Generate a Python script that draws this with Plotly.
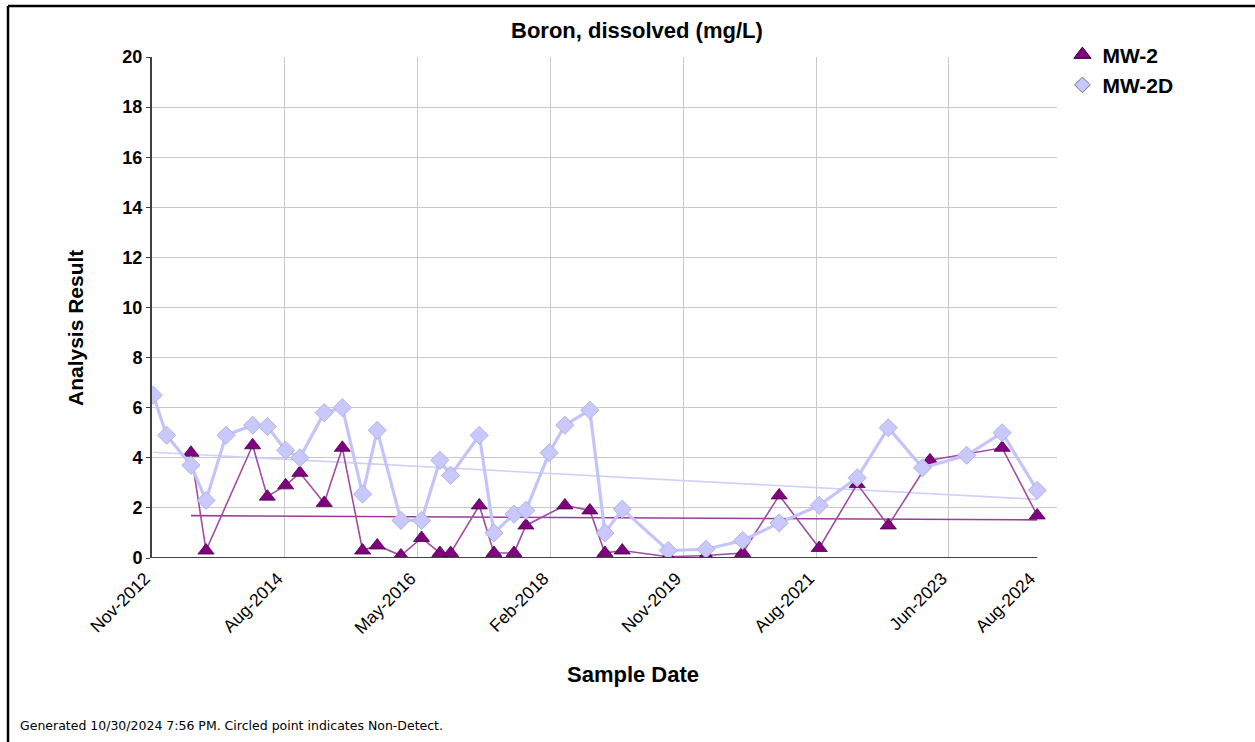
import plotly.graph_objects as go

# Boron, dissolved (mg/L) sample results
mw2_dates = ["2013-05-09", "2013-07-21", "2014-03-04", "2014-05-14", "2014-08-11",
             "2014-10-19", "2015-02-14", "2015-05-13", "2015-08-19", "2015-10-29",
             "2016-02-21", "2016-05-31", "2016-08-28", "2016-10-19", "2017-03-07",
             "2017-05-17", "2017-08-22", "2017-10-19", "2018-04-26", "2018-08-25",
             "2018-11-06", "2019-01-29", "2019-09-09", "2020-03-10", "2020-09-04",
             "2021-02-28", "2021-09-10", "2022-03-13", "2022-08-11", "2023-03-01",
             "2024-02-14", "2024-08-02"]
mw2_values = [4.2, 0.3, 4.5, 2.45, 2.9,
              3.4, 2.2, 4.4, 0.3, 0.5,
              0.1, 0.8, 0.2, 0.2, 2.1,
              0.2, 0.2, 1.3, 2.1, 1.9,
              0.2, 0.3, 0.05, 0.1, 0.2,
              2.5, 0.4, 2.95, 1.3, 3.9,
              4.4, 1.7]

mw2d_dates = ["2012-11-07", "2013-01-11", "2013-05-09", "2013-07-21", "2013-10-26",
              "2014-03-04", "2014-05-14", "2014-08-11", "2014-10-19", "2015-02-14",
              "2015-05-13", "2015-08-19", "2015-10-29", "2016-02-21", "2016-05-31",
              "2016-08-28", "2016-10-19", "2017-03-07", "2017-05-17", "2017-08-22",
              "2017-10-19", "2018-02-09", "2018-04-26", "2018-08-25", "2018-11-06",
              "2019-01-29", "2019-09-09", "2020-03-10", "2020-09-04", "2021-02-28",
              "2021-09-10", "2022-03-13", "2022-08-11", "2023-01-24", "2023-08-26",
              "2024-02-14", "2024-08-02"]
mw2d_values = [6.5, 4.9, 3.7, 2.3, 4.9,
               5.3, 5.25, 4.3, 4.0, 5.8,
               6.0, 2.55, 5.1, 1.5, 1.5,
               3.9, 3.3, 4.9, 1.0, 1.75,
               1.9, 4.2, 5.3, 5.9, 1.0,
               1.95, 0.3, 0.35, 0.7, 1.4,
               2.1, 3.2, 5.2, 3.6, 4.1,
               5.0, 2.7]

# Linear trend end values (first and last sample of each well)
mw2_trend = [1.69, 1.52]
mw2d_trend = [4.22, 2.34]

tick_dates = ["2012-11-01", "2014-08-07", "2016-05-12", "2018-02-15",
              "2019-11-21", "2021-08-26", "2023-06-01"]
tick_labels = ["Nov-2012", "Aug-2014", "May-2016", "Feb-2018",
               "Nov-2019", "Aug-2021", "Jun-2023"]
end_date = "2024-08-02"
end_label = "Aug-2024"
x_range = ["2012-11-01", "2024-11-06"]

MW2_COLOR = "#800080"
MW2D_COLOR = "#c4c4fa"
FONT = "Liberation Sans, Arial, sans-serif"

fig = go.Figure()

# trend lines
fig.add_trace(go.Scatter(
    x=[mw2_dates[0], mw2_dates[-1]], y=mw2_trend, mode="lines",
    line=dict(color="#9b3c9b", width=1.6), showlegend=False, hoverinfo="skip"))
fig.add_trace(go.Scatter(
    x=[mw2d_dates[0], mw2d_dates[-1]], y=mw2d_trend, mode="lines",
    line=dict(color="#cfcffc", width=1.6), showlegend=False, hoverinfo="skip"))

# series
mw2_marker = dict(symbol="triangle-up", size=14, color=MW2_COLOR,
                  line=dict(color="#4a004a", width=0.8))
mw2d_marker = dict(symbol="diamond", size=14, color="#c8c8fa",
                   line=dict(color="#a8a8e0", width=0.8))
fig.add_trace(go.Scatter(
    x=mw2_dates, y=mw2_values, mode="lines+markers", name="MW-2",
    line=dict(color="#a04ca0", width=1.6), marker=mw2_marker, showlegend=False))
fig.add_trace(go.Scatter(
    x=mw2d_dates, y=mw2d_values, mode="lines+markers", name="MW-2D",
    line=dict(color=MW2D_COLOR, width=3.2), marker=mw2d_marker, showlegend=False))

# legend entries show the marker symbols only
fig.add_trace(go.Scatter(
    x=[None], y=[None], mode="markers", name="MW-2",
    marker=dict(symbol="triangle-up", size=15, color=MW2_COLOR,
                line=dict(color="#2a002a", width=1))))
fig.add_trace(go.Scatter(
    x=[None], y=[None], mode="markers", name="MW-2D",
    marker=dict(symbol="diamond", size=12, color="#c8c8fa",
                line=dict(color="#707090", width=1))))

# x axis line only spans the sampled period
fig.add_shape(type="line", xref="x", yref="y", x0=x_range[0], x1=end_date,
              y0=0, y1=0, line=dict(color="#404040", width=2), layer="above")

# outer frame (top and left edges)
fig.add_shape(type="line", xref="paper", yref="paper", x0=-0.1591, x1=1.22,
              y0=1.1018, y1=1.1018, line=dict(color="#000000", width=2.5))
fig.add_shape(type="line", xref="paper", yref="paper", x0=-0.1591, x1=-0.1591,
              y0=1.1018, y1=-0.37, line=dict(color="#000000", width=2.5))

xtick_font = dict(size=17.5, family=FONT, color="#000000")

fig.update_layout(
    width=1255, height=742,
    margin=dict(l=152, r=198, t=57, b=184),
    paper_bgcolor="white", plot_bgcolor="white",
    font=dict(family=FONT, color="#000000"),
    showlegend=True,
    legend=dict(x=1.006, y=1.045, xanchor="left", yanchor="top",
                font=dict(size=21, family=FONT, weight="bold"),
                bgcolor="rgba(0,0,0,0)", itemsizing="trace",
                tracegroupgap=0),
    xaxis=dict(type="date", range=x_range, tickvals=tick_dates, ticktext=tick_labels,
               tickangle=-45, showgrid=True, gridcolor="#c8c8c8", gridwidth=1,
               showline=False, zeroline=False, ticks="",
               ticklabelshift=-7, ticklabelstandoff=6, tickfont=xtick_font),
    xaxis2=dict(type="date", range=x_range, overlaying="x", anchor="y", side="bottom",
                tickvals=[end_date], ticktext=[end_label], tickangle=-45,
                showgrid=False, showline=False, zeroline=False, ticks="",
                ticklabelshift=-7, ticklabelstandoff=6, tickfont=xtick_font),
    yaxis=dict(range=[0, 20], dtick=2, showgrid=True, gridcolor="#c8c8c8", gridwidth=1,
               showline=True, linecolor="#404040", linewidth=2, zeroline=False,
               ticks="outside", ticklen=4, tickcolor="#404040",
               tickfont=dict(size=18, family=FONT, color="#000000", weight="bold")),
    annotations=[
        dict(text="Boron, dissolved (mg/L)", xref="paper", yref="paper",
             x=0.536, y=1.052, showarrow=False, xanchor="center", yanchor="middle",
             font=dict(size=22, family=FONT, weight="bold")),
        dict(text="Analysis Result", xref="paper", yref="paper",
             x=-0.0851, y=0.459, showarrow=False, textangle=-90,
             xanchor="center", yanchor="middle",
             font=dict(size=21, family=FONT, weight="bold")),
        dict(text="Sample Date", xref="paper", yref="paper",
             x=0.5315, y=-0.2335, showarrow=False, xanchor="center", yanchor="middle",
             font=dict(size=22, family=FONT, weight="bold")),
        dict(text="Generated 10/30/2024 7:56 PM. Circled point indicates Non-Detect.",
             xref="paper", yref="paper", x=-0.148, y=-0.335, showarrow=False,
             xanchor="left", yanchor="middle",
             font=dict(size=12.5, family="DejaVu Sans, sans-serif")),
    ],
)

# keep a trace on the secondary axis so its tick label renders
fig.add_trace(go.Scatter(x=[end_date], y=[None], xaxis="x2", showlegend=False,
                         hoverinfo="skip", mode="markers"))

fig.write_html("out.html")
